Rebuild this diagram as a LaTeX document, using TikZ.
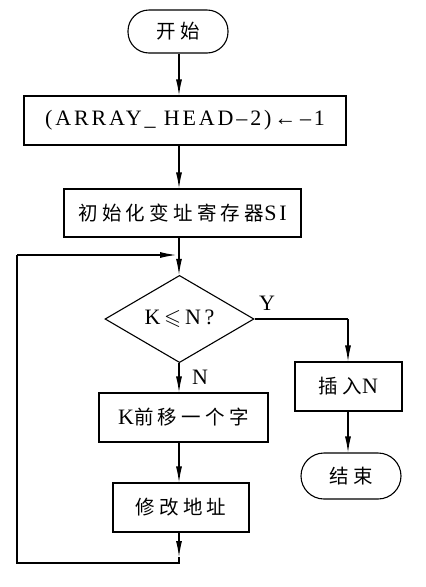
\documentclass[tikz,border=0pt]{standalone}
\usepackage{amssymb}
\usepackage{fontspec}
\usetikzlibrary{shapes.geometric,arrows.meta}
\setmainfont[LetterSpace=13]{Liberation Serif}
\newfontfamily\cjk[LetterSpace=22]{Noto Sans CJK SC}
\begin{document}
\begin{tikzpicture}[x=1pt,y=-1pt,
  every node/.style={font=\fontsize{22}{24}\selectfont},
  cjkfont/.style={font=\fontsize{19.5}{22}\selectfont},
  box/.style={draw,line width=1.1pt,inner sep=0pt},
  term/.style={draw,line width=1.1pt,rounded corners=21pt,inner sep=0pt},
  dec/.style={draw,line width=1.1pt,diamond,inner sep=0pt,minimum width=149pt,minimum height=66pt},
  lab/.style={inner sep=0pt},
  conn/.style={line width=1.1pt},
  arr/.style={conn,-{Latex[length=16pt,width=6pt]}}]
\useasboundingbox (0,0) rectangle (426,587);
\node[term,cjkfont,minimum width=100pt,minimum height=43pt] (start) at (178,31.5) {\cjk 开始};
\node[box,minimum width=322pt,minimum height=49pt] (b1) at (185,120.5) {(ARRAY\_ HEAD–2)←\,–1};
\node[box,minimum width=237pt,minimum height=48pt] (b2) at (182.5,213) {{\cjk\fontsize{19.5}{22}\selectfont 初始化变址寄存器}SI};
\node[dec] (d) at (179.5,319) {K\,$\leqslant$\,N\,?};
\node[box,minimum width=107pt,minimum height=49pt] (ins) at (348.5,386.5) {{\cjk\fontsize{19.5}{22}\selectfont 插入}N};
\node[term,cjkfont,minimum width=100pt,minimum height=46pt,rounded corners=23pt] (end) at (351,476) {\cjk 结束};
\node[box,minimum width=169pt,minimum height=49pt] (b4) at (183.5,417.5) {K{\cjk\fontsize{19.5}{22}\selectfont 前移一个字}};
\node[box,cjkfont,minimum width=136pt,minimum height=49pt] (b5) at (181,507.5) {\cjk 修改地址};
\node[lab] (ylab) at (267,303) {Y};
\node[lab] (nlab) at (200,377) {N};
\coordinate (ax) at (179,0);
\coordinate (jn) at (179,255);
\coordinate (tip) at (179,557);
\coordinate (lb) at (179,563);
\coordinate (ll) at (17,563);
\coordinate (lt) at (17,255);
\coordinate (rx) at (348,0);
\draw[arr] (start.south -| ax) -- (b1.north -| ax);
\draw[arr] (b1.south -| ax) -- (b2.north -| ax);
\draw[arr] (b2.south -| ax) -- (d.north -| ax);
\draw[arr] (d.south -| ax) -- (b4.north -| ax);
\draw[arr] (b4.south -| ax) -- (b5.north -| ax);
\draw[arr] (b5.south -| ax) -- (tip);
\draw[conn] (tip) -- (lb) -- (ll) -- (lt);
\draw[arr] (lt) -- ([xshift=-3pt]jn);
\draw[conn] (d.east) -- (d.east -| rx);
\draw[arr] (d.east -| rx) -- (ins.north -| rx);
\draw[arr] (ins.south -| rx) -- (end.north -| rx);
\end{tikzpicture}
\end{document}
